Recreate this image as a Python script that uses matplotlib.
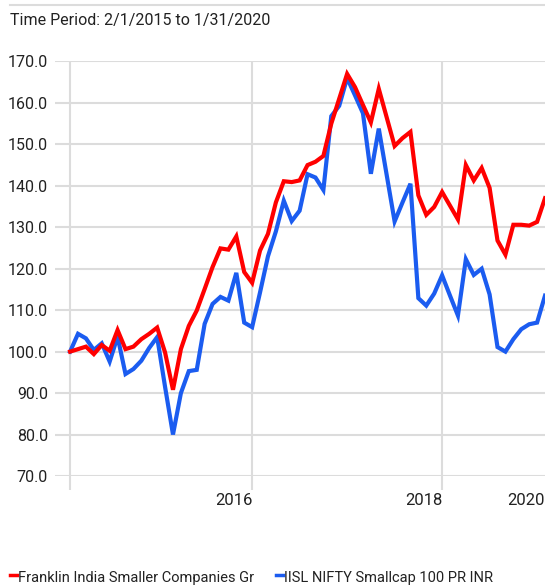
"""
Growth of 100: Franklin India Smaller Companies Gr vs IISL NIFTY Smallcap 100
"""

import matplotlib.pyplot as plt
import numpy as np
from matplotlib.lines import Line2D
from matplotlib.transforms import blended_transform_factory

plt.rcParams["font.family"] = ["Roboto", "DejaVu Sans"]

"""
Data (month ends, Jan 2015 = 100)
"""

title = "Time Period: 2/1/2015 to 1/31/2020"
fund_name = "Franklin India Smaller Companies Gr"
index_name = "IISL NIFTY Smallcap 100 PR INR"

fund = [
    100.0, 100.6, 101.2, 99.4, 101.6, 100.2, 105.2, 100.6, 101.2, 103.0,
    104.3, 105.8, 99.8, 90.8, 100.6, 106.2, 109.9, 115.1, 120.4, 124.9,
    124.6, 127.8, 119.2, 116.6, 124.4, 128.4, 136.0, 141.1, 140.9, 141.3,
    145.0, 145.8, 147.2, 155.0, 161.0, 167.0, 163.8, 159.5, 155.3, 163.4,
    156.5, 149.6, 151.5, 153.0, 137.7, 133.0, 134.9, 138.5, 135.2, 131.9,
    145.0, 141.3, 144.3, 139.5, 126.8, 123.4, 130.6, 130.6, 130.4, 131.3,
    137.0,
]
bench = [
    100.0, 104.3, 103.2, 100.4, 102.0, 97.6, 103.6, 94.6, 95.8, 97.8,
    100.9, 103.5, 91.5, 80.0, 90.0, 95.3, 95.6, 106.7, 111.5, 113.2,
    112.3, 119.0, 107.0, 105.9, 114.3, 123.0, 129.0, 136.4, 131.5, 134.0,
    142.8, 142.0, 139.0, 156.8, 159.3, 166.0, 161.8, 157.5, 142.9, 153.8,
    142.6, 131.4, 136.0, 140.5, 112.9, 111.1, 114.0, 118.4, 113.5, 108.7,
    122.3, 118.5, 120.0, 113.8, 101.1, 100.0, 103.0, 105.4, 106.6, 107.0,
    113.5,
]

# gridlines sit at year ends (months after Jan 2015), labels to their left
year_pos = [0, 23, 47]
year_labels = ["2016", "2018", "2020"]
year_label_pos = [23, 47, 60]
yticks = np.arange(70, 171, 10)

"""
Figure
"""

grid_c = "#dcdcdc"
text_c = "#222222"
red = "#ff0000"
blue = "#1b5cf0"

fig = plt.figure(figsize=(5.45, 5.88), dpi=100)
ax = fig.add_axes([0.101, 0.1905, 0.899, 0.705])

months = np.arange(len(fund))
ax.plot(months, bench, color=blue, linewidth=3, solid_joinstyle="miter", zorder=4)
ax.plot(months, fund, color=red, linewidth=3, solid_joinstyle="miter", zorder=5)

ax.set_xlim(-1.9, len(fund) - 1)
ax.set_ylim(70, 170)

# horizontal grid
ax.set_yticks(yticks)
ax.set_yticklabels([f"{v:.1f}" for v in yticks], fontsize=11.5, color=text_c)
ax.tick_params(axis="y", length=0, pad=5)
for v in yticks:
    ax.axhline(v, color=grid_c, linewidth=1.5, zorder=1)

# vertical grid with ticks below the axis
ax.set_xticks(year_pos)
ax.set_xticklabels([])
ax.tick_params(axis="x", direction="out", length=10, width=1.5, color=grid_c)
for p in year_pos:
    ax.axvline(p, color=grid_c, linewidth=1.5, zorder=1)

trans = blended_transform_factory(ax.transData, ax.transAxes)
for p, lab in zip(year_label_pos, year_labels):
    ax.text(p, -0.04, lab, transform=trans, ha="right", va="top",
            fontsize=12, color=text_c)

for s in ax.spines.values():
    s.set_visible(False)

# header
fig.add_artist(Line2D([10 / 545, 1], [1 - 5 / 588, 1 - 5 / 588],
                      color=grid_c, linewidth=1.5))
fig.text(10 / 545, 1 - 20 / 588, title, ha="left", va="center",
         fontsize=11.5, color=text_c)

# legend
leg_y = 1 - 578 / 588
for x0, name, c in [(10, fund_name, red), (276, index_name, blue)]:
    fig.add_artist(Line2D([x0 / 545, (x0 + 7) / 545], [leg_y + 3 / 588] * 2,
                          color=c, linewidth=2.5))
    fig.text((x0 + 8) / 545, leg_y, name, ha="left", va="center",
             fontsize=10.5, color=text_c)

plt.savefig("out.png", dpi=100)
plt.close()
